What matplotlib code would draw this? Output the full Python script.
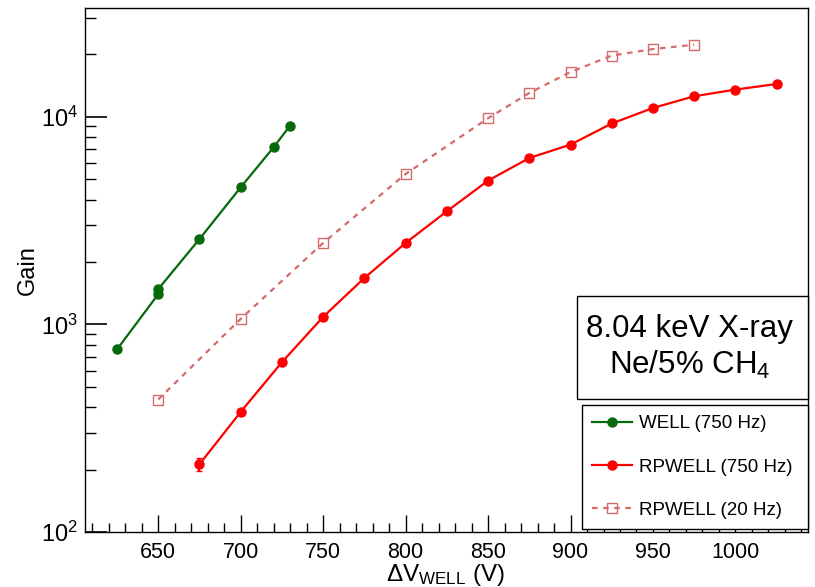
#gain curves of WELL and RPWELL in Ne/5% CH4

#import necessary
from matplotlib import pyplot as plt
from matplotlib.patches import Rectangle
from matplotlib.lines import Line2D
from matplotlib.ticker import LogLocator, MultipleLocator, NullFormatter
import numpy as np

plt.rcParams['font.family'] = ['Liberation Sans', 'DejaVu Sans']
plt.rcParams['mathtext.fontset'] = 'custom'
plt.rcParams['mathtext.rm'] = 'Liberation Sans'
plt.rcParams['mathtext.it'] = 'Liberation Sans:italic'

#data
v_well = [625, 650, 650, 675, 700, 720, 730]
g_well = [758, 1400, 1480, 2580, 4580, 7150, 9090]

v_rp750 = [675, 700, 725, 750, 775, 800, 825, 850, 875, 900, 925, 950, 975, 1000, 1025]
g_rp750 = [212, 379, 658, 1088, 1675, 2470, 3510, 4935, 6340, 7360, 9300, 11050, 12580, 13550, 14420]
e_rp750 = [16, 0, 0, 0, 0, 0, 0, 0, 0, 0, 0, 0, 0, 0, 0]

v_rp20 = [650, 700, 750, 800, 850, 875, 900, 925, 950, 975]
g_rp20 = [435, 1064, 2470, 5310, 9860, 13050, 16470, 19750, 21240, 22290]

labels = ['WELL (750 Hz)', 'RPWELL (750 Hz)', 'RPWELL (20 Hz)']

green = '#06690a'
red = '#ff0000'
pink = '#d46a6a'

fig = plt.figure(figsize=(8.15, 5.87), dpi=100)
ax = fig.add_axes([85/815, 55/587, 723/815, 524/587])

well, = ax.plot(v_well, g_well, color=green, lw=1.6, marker='o', ms=6.5, label=labels[0])
ax.errorbar(v_rp750, g_rp750, yerr=e_rp750, color=red, lw=1.6, marker='o', ms=6.5,
            capsize=2)
rp750 = Line2D([], [], color=red, lw=1.6, marker='o', ms=6.5, label=labels[1])
rp20, = ax.plot(v_rp20, g_rp20, color=pink, lw=1.6, ls=(0, (2.5, 2.5)), marker='s', ms=7,
                mfc='none', mec=pink, mew=1.0, label=labels[2])

ax.set_yscale('log')
ax.set_xlim(605.6, 1044)
ax.set_ylim(100, 33500)

#ROOT style ticks
ax.xaxis.set_major_locator(MultipleLocator(50))
ax.xaxis.set_minor_locator(MultipleLocator(10))
ax.yaxis.set_minor_locator(LogLocator(base=10, subs=np.arange(2, 10)))
ax.yaxis.set_minor_formatter(NullFormatter())
ax.set_yticks([100, 1000, 10000])
ax.set_yticklabels([r'$10^{2}$', r'$10^{3}$', r'$10^{4}$'])
ax.tick_params(which='both', direction='in', colors='black')
ax.tick_params(axis='x', labelsize=15.5)
ax.tick_params(axis='y', labelsize=17)
ax.tick_params(axis='y', which='major', length=16, width=1.2, pad=5)
ax.tick_params(axis='y', which='minor', length=8, width=1)
ax.tick_params(axis='x', which='major', length=12, width=1, pad=7)
ax.tick_params(axis='x', which='minor', length=6.5, width=1)
for s in ax.spines.values():
    s.set_linewidth(1)

fig.text(28/815, 1 - 270/587, 'Gain', rotation=90, ha='center', va='center', fontsize=17)
fig.text(445/815, 1 - 575/587, 'ΔV$_{\\mathrm{WELL}}$ (V)', ha='center', va='center', fontsize=17.5)

#info box
ax.add_patch(Rectangle((0.6805, 0.2538), 0.3195, 0.1966, transform=ax.transAxes,
                       fc='white', ec='black', lw=1, zorder=5, clip_on=False))
ax.text(0.836, 0.3875, '8.04 keV X-ray', transform=ax.transAxes, ha='center', va='center',
        fontsize=22.5, zorder=6)
ax.text(0.836, 0.3187, 'Ne/5% CH$_{4}$', transform=ax.transAxes, ha='center', va='center',
        fontsize=22.5, zorder=6)

leg = ax.legend(handles=[well, rp750, rp20], loc='center left',
                bbox_to_anchor=(0.6874, 0.0, 0.3126, 0.248), mode='expand',
                fontsize=13.5, frameon=True, fancybox=False, framealpha=1, borderaxespad=0,
                handlelength=2.1, handletextpad=0.4, labelspacing=1.4, borderpad=0.55)
leg.get_frame().set_edgecolor('black')
leg.get_frame().set_linewidth(1)
leg.set_zorder(7)

fig.savefig('out.png', dpi=100)
